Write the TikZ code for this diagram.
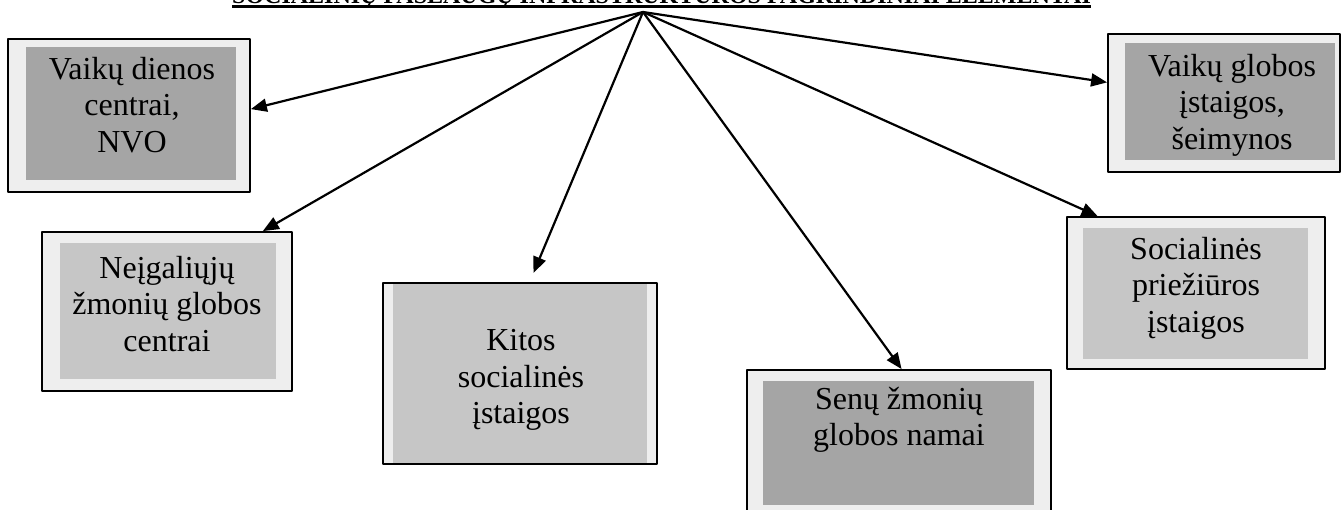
\documentclass[tikz,border=0pt]{standalone}
\usepackage{fontspec}
\setmainfont{Liberation Serif}
\usetikzlibrary{arrows.meta}
\definecolor{paper}{RGB}{238,238,238}
\definecolor{tonedark}{RGB}{165,165,165}
\definecolor{tonelight}{RGB}{198,198,198}
\begin{document}
\begin{tikzpicture}[x=1pt, y=-1pt, line join=round, >={Triangle[length=16pt,width=13pt]},
		frame/.style={draw, line width=1.8pt, fill=paper, inner sep=0pt},
		field/.style={inner sep=0pt},
		lbl/.style={align=center, inner sep=0pt, font=\fontsize{32}{36.5}\selectfont}]
	\useasboundingbox (0,0) rectangle (1342,510);
	\clip (0,0) rectangle (1342,510);
	\fill[white] (0,0) rectangle (1342,510);
	% title, its upper part is cut off
	\node[anchor=base west, inner sep=0pt, font=\fontsize{24}{28}\selectfont\bfseries] (title) at (232,4)
		{SOCIALINIŲ PASLAUGŲ INFRASTRUKTŪROS PAGRINDINIAI ELEMENTAI};
	\draw[line width=2.5pt] ([yshift=-2.5pt]title.base west) -- ([yshift=-2.5pt]title.base east);
	\coordinate (hub) at (643,12);
	% frames and shaded fields
	\foreach \n/\x/\y/\w/\h/\ix/\iy/\iw/\ih/\c in {
			vdc/129/115.5/242/153/131/113.5/210/133/tonedark,
			vgi/1224/103/232/138/1230/101.5/210/117/tonedark,
			ngc/167/311.5/250/159/168/311/216/136/tonelight,
			kso/520/373.5/274/181/520/373.5/254/179/tonelight,
			szg/899/443.5/304/147/898.5/443/271/124/tonedark,
			spi/1196/293/258/152/1195.5/293.5/225/131/tonelight}{
		\node[frame, minimum width=\w, minimum height=\h] (\n) at (\x,\y) {};
		\node[field, fill=\c, minimum width=\iw, minimum height=\ih] (\n-in) at (\ix,\iy) {};
	}
	\foreach \n/\x/\y/\t in {
			vdc/132/105/{Vaikų dienos\\centrai,\\NVO},
			vgi/1232/105/{Vaikų globos\\įstaigos,\\šeimynos},
			ngc/167/304/{Neįgaliųjų\\žmonių globos\\centrai},
			kso/521/380/{Kitos\\socialinės\\įstaigos},
			szg/899/420/{Senų žmonių\\globos namai},
			spi/1196/288/{Socialinės\\priežiūros\\įstaigos}}{
		\node[lbl] (\n-txt) at (\x,\y) {\t};
	}
	\foreach \n/\a in {vdc/3, ngc/40, szg/88, spi/142, vgi/170}
		\draw[->, line width=2.2pt] (hub) -- (\n.\a);
	\draw[->, line width=2.2pt, shorten >=10pt] (hub) -- (kso.84);
\end{tikzpicture}
\end{document}
